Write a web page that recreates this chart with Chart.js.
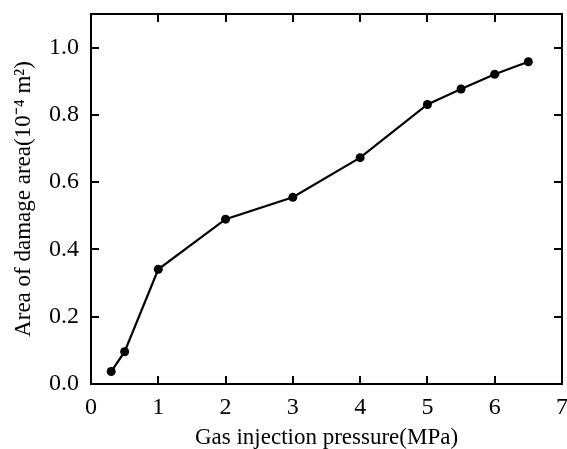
<!DOCTYPE html>
<html>
<head>
<meta charset="utf-8">
<script src="https://cdn.jsdelivr.net/npm/chart.js@4"></script>
<style>
  html, body { margin: 0; padding: 0; background: #fff; }
  #wrap { width: 567px; height: 449px; }
</style>
</head>
<body>
<div id="wrap"><canvas id="myChart" width="567" height="449"></canvas></div>
<script>
const pressure = [0.3, 0.5, 1, 2, 3, 4, 5, 5.5, 6, 6.5];
const damageArea = [0.037, 0.096, 0.341, 0.490, 0.555, 0.673, 0.831, 0.877, 0.921, 0.958];
const xTicks = [0, 1, 2, 3, 4, 5, 6, 7];
const yTicks = [0, 0.2, 0.4, 0.6, 0.8, 1.0];

const serif = "'Liberation Serif', 'Times New Roman', serif";

// box around the plot + ticks pointing inward on all four sides
const frame = {
    id: 'frame',
    afterDraw(chart) {
        const c = chart.ctx;
        const a = chart.chartArea;
        const xs = chart.scales.x, ys = chart.scales.y;
        const len = 8;
        c.save();
        c.strokeStyle = '#000';
        c.lineWidth = 2;
        c.strokeRect(a.left, a.top, a.right - a.left, a.bottom - a.top);
        c.beginPath();
        xTicks.forEach(v => {
            const px = Math.round(xs.getPixelForValue(v));
            c.moveTo(px, a.bottom); c.lineTo(px, a.bottom - len);
            c.moveTo(px, a.top); c.lineTo(px, a.top + len);
        });
        yTicks.forEach(v => {
            const py = Math.round(ys.getPixelForValue(v));
            c.moveTo(a.left, py); c.lineTo(a.left + len, py);
            c.moveTo(a.right, py); c.lineTo(a.right - len, py);
        });
        c.stroke();
        c.restore();
    }
};

const ctx = document.getElementById('myChart').getContext('2d');
const myChart = new Chart(ctx, {
    type: 'line',
    data: {
        datasets: [{
            data: pressure.map((p, i) => ({ x: p, y: damageArea[i] })),
            borderColor: '#000',
            backgroundColor: '#000',
            borderWidth: 2.2,
            pointRadius: 4.5,
            pointBorderWidth: 0,
            tension: 0
        }]
    },
    options: {
        responsive: false,
        animation: false,
        layout: { padding: { top: 14, right: 5, left: 0, bottom: 0 } },
        plugins: { legend: { display: false }, tooltip: { enabled: false } },
        scales: {
            x: {
                type: 'linear',
                min: 0,
                max: 7,
                afterBuildTicks: s => { s.ticks = xTicks.map(v => ({ value: v })); },
                afterFit: s => { s.height = 65; s.paddingLeft = 0; s.paddingRight = 0; },
                grid: { display: false },
                border: { display: false },
                ticks: {
                    color: '#000',
                    padding: 1,
                    font: { family: serif, size: 24 }
                },
                title: {
                    display: true,
                    text: 'Gas injection pressure(MPa)',
                    color: '#000',
                    padding: { top: 0, bottom: 0 },
                    font: { family: serif, size: 23, lineHeight: 1 }
                }
            },
            y: {
                min: 0,
                max: 1.1,
                afterBuildTicks: s => { s.ticks = yTicks.map(v => ({ value: v })); },
                afterFit: s => { s.width = 91; s.paddingTop = 0; s.paddingBottom = 0; },
                grid: { display: false },
                border: { display: false },
                ticks: {
                    color: '#000',
                    padding: 4,
                    font: { family: serif, size: 24 },
                    callback: v => v.toFixed(1)
                },
                title: {
                    display: true,
                    text: 'Area of damage area(10⁻⁴ m²)',
                    color: '#000',
                    padding: { top: 12, bottom: 0 },
                    font: { family: serif, size: 23, lineHeight: 1 }
                }
            }
        }
    },
    plugins: [frame]
});
</script>
</body>
</html>
